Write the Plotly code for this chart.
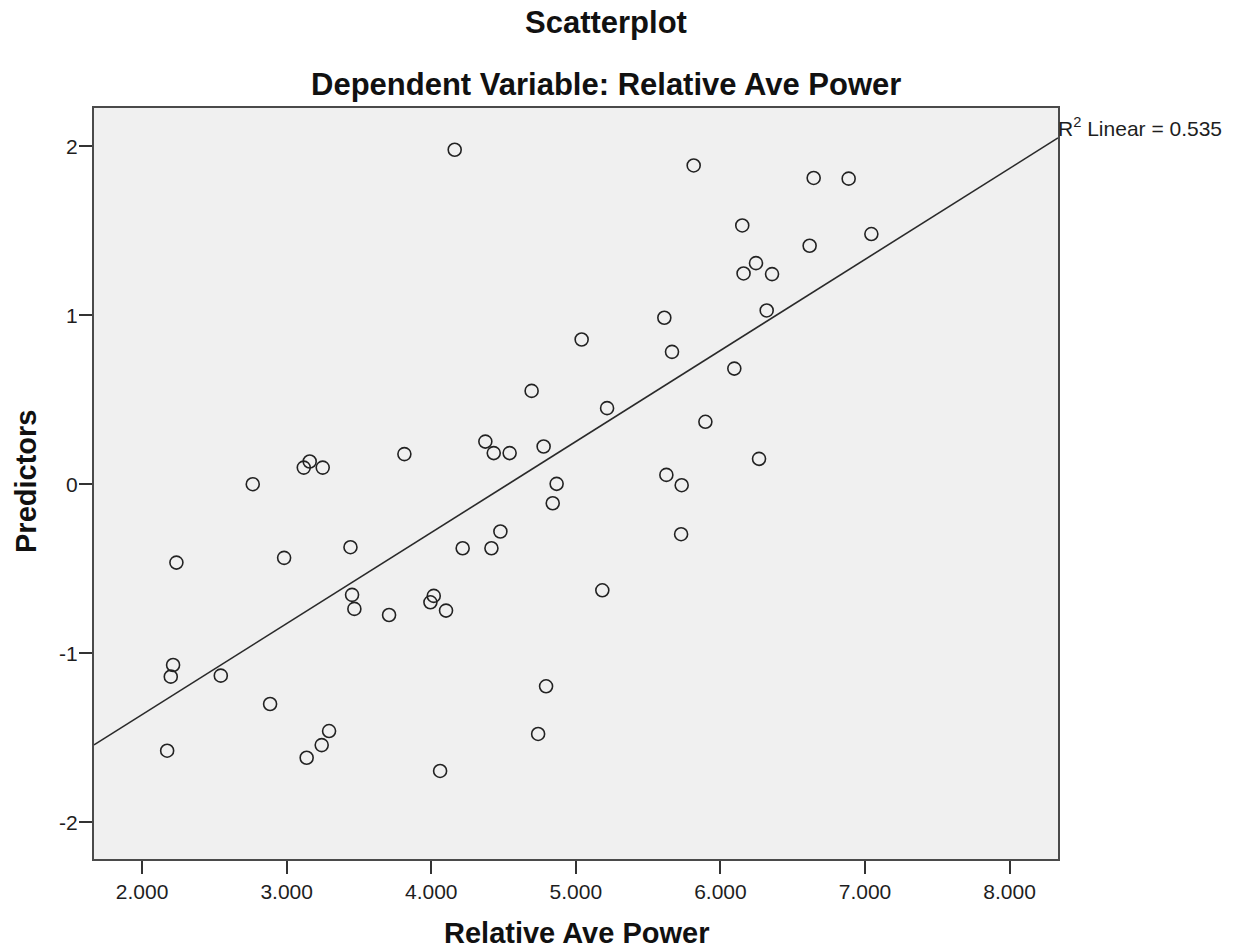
import plotly.graph_objects as go

# Data
relative_ave_power = [
    4.162, 3.118, 3.159, 3.249, 3.814, 4.374, 4.432, 4.542, 2.765, 2.237,
    2.982, 3.441, 4.217, 4.416, 4.478, 3.452, 3.468, 3.708, 4.017, 3.994,
    4.102, 2.214, 2.198, 2.544, 2.885, 3.293, 3.242, 3.138, 2.173, 4.061,
    5.815, 6.645, 6.887, 6.151, 7.044, 6.617, 6.246, 6.160, 6.357, 6.320,
    5.612, 5.040, 5.665, 6.096, 4.694, 5.216, 5.896, 4.777, 6.267, 4.867,
    4.840, 5.626, 5.732, 5.728, 5.183, 4.794, 4.739,
]
predictors = [
    1.979, 0.098, 0.134, 0.098, 0.178, 0.252, 0.184, 0.184, 0.000, -0.464,
    -0.436, -0.373, -0.379, -0.379, -0.280, -0.655, -0.738, -0.774, -0.661, -0.699,
    -0.748, -1.070, -1.139, -1.133, -1.301, -1.461, -1.544, -1.619, -1.577, -1.697,
    1.886, 1.812, 1.808, 1.531, 1.480, 1.411, 1.308, 1.247, 1.243, 1.028,
    0.985, 0.856, 0.783, 0.684, 0.552, 0.450, 0.369, 0.223, 0.150, 0.002,
    -0.113, 0.055, -0.006, -0.296, -0.628, -1.196, -1.478,
]

# Linear fit line (R^2 Linear = 0.535)
fit_slope = 0.5387
fit_intercept = -2.441
r2_label = "R<sup>2</sup> Linear = 0.535"

x_tick_vals = [2, 3, 4, 5, 6, 7, 8]
x_tick_text = ["2.000", "3.000", "4.000", "5.000", "6.000", "7.000", "8.000"]
y_tick_vals = [-2, -1, 0, 1, 2]
y_tick_text = ["-2", "-1", "0", "1", "2"]

x_range = [1.667, 8.335]
y_range = [-2.218, 2.226]

FONT = "Liberation Sans, Arial, sans-serif"
INK = "#1e1e1e"

fig = go.Figure()

fit_x = x_range
fit_y = [fit_slope * v + fit_intercept for v in fit_x]
fig.add_trace(go.Scatter(
    x=fit_x, y=fit_y, mode="lines",
    line=dict(color="#2a2a2a", width=1.6),
    hoverinfo="skip", showlegend=False,
))

fig.add_trace(go.Scatter(
    x=relative_ave_power, y=predictors, mode="markers",
    marker=dict(symbol="circle-open", size=13, color="#222222",
                line=dict(width=1.6, color="#222222")),
    showlegend=False,
))

W, H = 1241, 949
ML, MR, MT, MB = 94, 183, 108, 90
plot_h = H - MT - MB


def py(p):
    return (H - MB - p) / plot_h


def px(p):
    return (p - ML) / (W - ML - MR)


fig.update_layout(
    width=W, height=H,
    margin=dict(l=ML, r=MR, t=MT, b=MB, pad=0),
    paper_bgcolor="white",
    plot_bgcolor="#f0f0f0",
    font=dict(family=FONT, color=INK, size=21),
    showlegend=False,
    xaxis=dict(
        range=x_range, tickvals=x_tick_vals, ticktext=x_tick_text,
        showgrid=False, zeroline=False,
        showline=True, mirror=True, linecolor="#4a4a4a", linewidth=2,
        ticks="outside", ticklen=13, tickwidth=1.6, tickcolor="#333333",
        tickfont=dict(family=FONT, size=21, color=INK),
    ),
    yaxis=dict(
        range=y_range, tickvals=y_tick_vals, ticktext=y_tick_text,
        showgrid=False, zeroline=False,
        showline=True, mirror=True, linecolor="#4a4a4a", linewidth=2,
        ticks="outside", ticklen=13, tickwidth=1.6, tickcolor="#333333",
        tickfont=dict(family=FONT, size=21, color=INK),
        ticklabelstandoff=-3,
    ),
    annotations=[
        dict(text="<b>Scatterplot</b>", xref="paper", yref="paper",
             x=px(606), y=py(22), xanchor="center", yanchor="middle",
             showarrow=False, font=dict(family=FONT, size=31, color="#111111")),
        dict(text="<b>Dependent Variable: Relative Ave Power</b>", xref="paper", yref="paper",
             x=px(606), y=py(84), xanchor="center", yanchor="middle",
             showarrow=False, font=dict(family=FONT, size=31, color="#111111")),
        dict(text="<b>Relative Ave Power</b>", xref="paper", yref="paper",
             x=0.5, y=py(933), xanchor="center", yanchor="middle",
             showarrow=False, font=dict(family=FONT, size=29, color="#111111")),
        dict(text="<b>Predictors</b>", xref="paper", yref="paper",
             x=px(26), y=py(482), xanchor="center", yanchor="middle",
             textangle=-90,
             showarrow=False, font=dict(family=FONT, size=29, color="#111111")),
        dict(text=r2_label, xref="paper", yref="paper",
             x=1.0, y=py(127), xanchor="left", yanchor="middle", xshift=-2,
             showarrow=False, font=dict(family=FONT, size=21, color=INK)),
    ],
)

fig.write_html(
    "out.html",
    config={"displayModeBar": False},
    post_script="document.body.style.margin='0';document.body.style.overflow='hidden';",
)
